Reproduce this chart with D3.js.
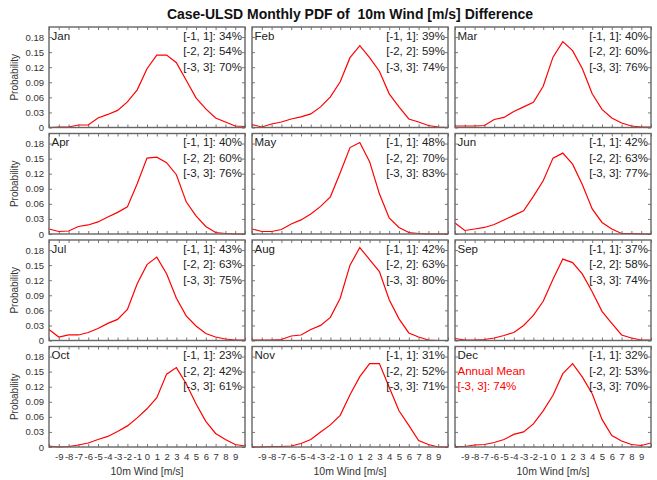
<!DOCTYPE html>
<html><head><meta charset="utf-8">
<script src="https://cdn.jsdelivr.net/npm/d3@7"></script>
<style>html,body{margin:0;padding:0;background:#fff;}svg{display:block;}</style>
</head><body>
<svg id="chart" width="657" height="480"></svg>
<script>
const months = ["Jan","Feb","Mar","Apr","May","Jun","Jul","Aug","Sep","Oct","Nov","Dec"];
const windBins = [-10,-9,-8,-7,-6,-5,-4,-3,-2,-1,0,1,2,3,4,5,6,7,8,9,10];
const xTickLabels = [-9,-8,-7,-6,-5,-4,-3,-2,-1,0,1,2,3,4,5,6,7,8,9];
const yTickValues = [0,0.03,0.06,0.09,0.12,0.15,0.18];
const pJan = [0.000,0.001,0.001,0.005,0.005,0.019,0.026,0.034,0.051,0.075,0.117,0.144,0.144,0.129,0.094,0.059,0.037,0.019,0.011,0.003,0.002];
const pFeb = [0.006,0.001,0.007,0.011,0.017,0.021,0.027,0.041,0.061,0.091,0.139,0.163,0.139,0.112,0.067,0.041,0.017,0.011,0.004,0.001,0.000];
const pMar = [0.003,0.003,0.003,0.004,0.016,0.020,0.032,0.041,0.050,0.082,0.140,0.171,0.153,0.117,0.067,0.036,0.019,0.009,0.003,0.001,0.001];
const pApr = [0.010,0.005,0.006,0.015,0.018,0.024,0.034,0.043,0.054,0.100,0.151,0.153,0.142,0.118,0.064,0.036,0.015,0.003,0.001,0.000,0.000];
const pMay = [0.010,0.005,0.005,0.009,0.020,0.028,0.040,0.055,0.074,0.122,0.172,0.182,0.144,0.080,0.032,0.013,0.003,0.001,0.000,0.000,0.000];
const pJun = [0.022,0.007,0.010,0.013,0.019,0.028,0.037,0.046,0.075,0.106,0.151,0.161,0.139,0.098,0.050,0.023,0.010,0.001,0.001,0.000,0.000];
const pJul = [0.022,0.007,0.011,0.011,0.016,0.024,0.034,0.042,0.062,0.113,0.151,0.166,0.133,0.084,0.049,0.029,0.014,0.007,0.003,0.001,0.001];
const pAug = [0.001,0.001,0.001,0.002,0.009,0.011,0.022,0.030,0.046,0.084,0.150,0.185,0.161,0.137,0.081,0.043,0.015,0.007,0.001,0.000,0.000];
const pSep = [0.004,0.001,0.001,0.002,0.005,0.010,0.016,0.030,0.050,0.078,0.122,0.162,0.155,0.132,0.097,0.058,0.034,0.011,0.005,0.001,0.001];
const pOct = [0.002,0.000,0.001,0.004,0.008,0.015,0.021,0.031,0.042,0.058,0.076,0.098,0.145,0.158,0.126,0.086,0.051,0.027,0.015,0.005,0.002];
const pNov = [0.000,0.000,0.001,0.001,0.002,0.007,0.015,0.030,0.044,0.063,0.104,0.140,0.166,0.166,0.119,0.072,0.043,0.013,0.005,0.000,0.000];
const pDec = [0.001,0.001,0.004,0.005,0.009,0.015,0.025,0.030,0.046,0.072,0.103,0.146,0.166,0.139,0.106,0.055,0.023,0.012,0.005,0.003,0.008];
const monthlyPdf = [pJan,pFeb,pMar,pApr,pMay,pJun,pJul,pAug,pSep,pOct,pNov,pDec];
const statRanges = ["[-1, 1]","[-2, 2]","[-3, 3]"];
const statValues = [[34,54,70],[39,59,74],[40,60,76],[40,60,76],[48,70,83],[42,63,77],[43,63,75],[42,63,80],[37,58,74],[23,42,61],[31,52,71],[32,53,70]];
const annualLabel = "Annual Mean";
const annualRange = "[-3, 3]";
const annualValue = 74;
const titleText = "Case-ULSD Monthly PDF of  10m Wind [m/s] Difference";

const svg = d3.select("#chart");
const font = "Liberation Sans, Arial, Helvetica, sans-serif";
const colX = [49, 252, 455];
const rowY = [27, 133.5, 240, 346.5];
const pw = 196, ph = 100.5;

svg.append("text").attr("x", 350).attr("y", 19).style("white-space","pre")
  .attr("text-anchor","middle").attr("font-family",font).attr("font-weight","bold")
  .attr("font-size","14px").attr("fill","#111").text(titleText);

const x = d3.scaleLinear().domain([-10,10]).range([0,pw]);
const y = d3.scaleLinear().domain([0,0.2]).range([ph,0]);
const line = d3.line().x((d,i)=>x(windBins[i])).y(d=>y(d));
const fs = "11.5px";

months.forEach((m,k)=>{
  const r = Math.floor(k/3), c = k%3;
  const g = svg.append("g").attr("transform",`translate(${colX[c]},${rowY[r]})`);
  const tickCol = "#555";
  const bottomAxis = d3.axisBottom(x).tickValues(windBins).tickSize(-3).tickFormat("");
  const topAxis = d3.axisTop(x).tickValues(windBins).tickSize(-3).tickFormat("");
  const leftAxis = d3.axisLeft(y).tickValues(yTickValues).tickSize(-3).tickFormat("");
  const rightAxis = d3.axisRight(y).tickValues(yTickValues).tickSize(-3).tickFormat("");
  [[bottomAxis,`translate(0,${ph})`],[topAxis,"translate(0,0)"],[leftAxis,"translate(0,0)"],[rightAxis,`translate(${pw},0)`]].forEach(([ax,tr])=>{
    const a = g.append("g").attr("transform",tr).call(ax);
    a.select(".domain").remove();
    a.selectAll("line").attr("stroke",tickCol).attr("stroke-width",0.8);
  });
  g.append("path").datum(monthlyPdf[k]).attr("d",line)
    .attr("fill","none").attr("stroke","#ff0000").attr("stroke-width",1.2);
  g.append("rect").attr("x",0).attr("y",0).attr("width",pw).attr("height",ph)
    .attr("fill","none").attr("stroke","#666").attr("stroke-width",1.4);
  g.append("text").attr("x",2.5).attr("y",12.5).attr("font-family",font)
    .attr("font-size",fs).attr("fill","#222").text(m);
  statRanges.forEach((s,i)=>{
    g.append("text").attr("x",pw-3).attr("y",12.5+i*15.6).attr("text-anchor","end")
      .attr("font-family",font).attr("font-size",fs).attr("fill","#222")
      .text(`${s}: ${statValues[k][i]}%`);
  });
  if (k===11) {
    g.append("text").attr("x",2.5).attr("y",12.5+15.6).attr("font-family",font)
      .attr("font-size",fs).attr("fill","#ff0000").text(annualLabel);
    g.append("text").attr("x",2.5).attr("y",12.5+31.2).attr("font-family",font)
      .attr("font-size",fs).attr("fill","#ff0000").text(`${annualRange}: ${annualValue}%`);
  }
  if (c===0) {
    const ya = g.append("g").call(d3.axisLeft(y).tickValues(yTickValues).tickSize(0).tickPadding(5)
      .tickFormat(d=> d===0 ? "0" : d3.format(".2f")(d)));
    ya.select(".domain").remove();
    ya.selectAll("text").attr("font-family",font).attr("font-size","9.5px").attr("fill","#333");
    g.append("text").attr("transform",`translate(-31,${ph/2}) rotate(-90)`)
      .attr("text-anchor","middle").attr("font-family",font).attr("font-size","10px")
      .attr("fill","#333").text("Probability");
  }
  if (r===3) {
    const xa = g.append("g").attr("transform",`translate(0,${ph})`)
      .call(d3.axisBottom(x).tickValues(xTickLabels).tickSize(0).tickPadding(6).tickFormat(d=>String(d)));
    xa.select(".domain").remove();
    xa.selectAll("text").attr("font-family",font).attr("font-size","9.5px").attr("fill","#333");
    g.append("text").attr("x",pw/2).attr("y",ph+27.5).attr("text-anchor","middle")
      .attr("font-family",font).attr("font-size","10.5px").attr("fill","#333").text("10m Wind [m/s]");
  }
});
</script>
</body></html>
